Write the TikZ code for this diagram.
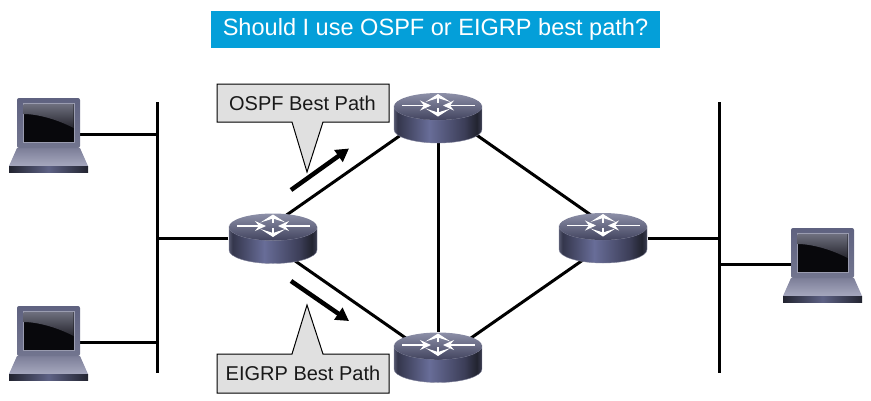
\documentclass[tikz,border=0pt]{standalone}
\usepackage{fontspec}
\setmainfont{Liberation Sans}
\usetikzlibrary{backgrounds,arrows.meta}
\definecolor{titleblue}{HTML}{049FD9}
\definecolor{calloutgray}{HTML}{E0E0E0}
\definecolor{rEdge}{HTML}{55586F}
\definecolor{rDarkL}{HTML}{34364C}
\definecolor{rMid}{HTML}{686D98}
\definecolor{rFall}{HTML}{3C3E58}
\definecolor{rDarkR}{HTML}{222430}
\definecolor{rEdgeR}{HTML}{3A3C50}
\definecolor{rTopHi}{HTML}{8D90A8}
\definecolor{rTopLo}{HTML}{42445F}
\definecolor{rRim}{HTML}{7E8098}
\definecolor{lapframeA}{HTML}{5F6280}
\definecolor{lapframeB}{HTML}{72758F}
\definecolor{lapinner}{HTML}{9A9CB0}
\definecolor{lapbaseA}{HTML}{7C7E98}
\definecolor{lapbaseB}{HTML}{A6A8BE}
\definecolor{lapstrip}{HTML}{5E6285}
\definecolor{screenA}{HTML}{6E6F7E}
\definecolor{screenB}{HTML}{26262E}
\definecolor{screenC}{HTML}{08080C}
\pgfdeclarehorizontalshading{routerside}{100bp}{
  color(0bp)=(rEdge);
  color(25bp)=(rEdge);
  color(27bp)=(rDarkL);
  color(45bp)=(rMid);
  color(65bp)=(rFall);
  color(72bp)=(rDarkR);
  color(75bp)=(rEdgeR);
  color(100bp)=(rEdgeR)}
\tikzset{
  hitbox/.style={inner sep=0pt,minimum width=#1,minimum height=50pt},
  link/.style={line width=3pt,black},
  bar/.style={line width=3pt,black},
  flow/.style={line width=4.5pt,-{Triangle[length=13pt,width=14pt]},black},
  callout/.style={draw=black,line width=1pt,fill=calloutgray},
  calloutlabel/.style={font=\fontsize{20}{24}\selectfont,text=black!90,inner sep=0pt},
  rarrowh/.style={white,line width=1.3pt,-{Stealth[length=11pt,width=10pt,inset=4pt]}},
  rarrowv/.style={white,line width=2.6pt,-{Stealth[length=8pt,width=25pt,inset=4pt]}},
  routerpic/.pic={
    \shade[shading=routerside,draw=rRim,line width=.4pt] (-44,-11.5) -- (-44,11.5)
      arc[start angle=180,end angle=360,x radius=44pt,y radius=13.5pt] -- (44,-11.5)
      arc[start angle=360,end angle=180,x radius=44pt,y radius=13.5pt] -- cycle;
    \shade[top color=rTopHi,bottom color=rTopLo]
      (0,-11.5) ellipse[x radius=44pt,y radius=13.5pt];
    \draw[rarrowh] (-36,-12.5) -- (-7,-12.5);
    \draw[rarrowh] (37,-12.5) -- (5,-12.5);
    \draw[rarrowv] (0,-15.5) -- (0,-24);
    \draw[rarrowv] (0,-10.5) -- (0,-1.5);
  },
  laptoppic/.pic={
    \shade[top color=lapbaseA,bottom color=lapbaseB] (-31.5,14) -- (31.5,14) -- (39.5,32) -- (-39.5,32) -- cycle;
    \shade[left color=rDarkR,right color=rDarkR,middle color=lapstrip] (-39.5,32) rectangle (39.5,38);
    \shade[top color=lapframeA,bottom color=lapframeB,rounded corners=2pt] (-31.5,-36) rectangle (31.5,14);
    \fill[lapinner] (-26,-31) rectangle (26,9);
    \fill[screenC] (-25,-30) rectangle (25,8);
    \shade[top color=screenA,bottom color=screenB]
      (-25,-30) -- (25,-30) -- (25,-6) .. controls (10,-14) and (-10,-20) .. (-25,-20) -- cycle;
  }
}
\begin{document}
\begin{tikzpicture}[x=1pt,y=-1pt]
\useasboundingbox (0,0) rectangle (871,400);
% nodes
\node[fill=titleblue,minimum width=449pt,minimum height=37pt,inner sep=0pt,text=white,font=\fontsize{23.55}{27}\selectfont] (title) at (435.5,29.5) {Should I use OSPF or EIGRP best path?};
\node[hitbox=89pt] (r1) at (273,238.5) {};
\node[hitbox=89pt] (r2) at (438,118) {};
\node[hitbox=89pt] (r3) at (438,357.5) {};
\node[hitbox=89pt] (r4) at (603,238) {};
\node[hitbox=63pt] (l1) at (48.5,134) {};
\node[hitbox=63pt] (l2) at (48.5,342) {};
\node[hitbox=63pt] (l3) at (822.5,264) {};
\coordinate (barLt) at (157,102);
\coordinate (barLb) at (157,373);
\coordinate (barRt) at (719,102);
\coordinate (barRb) at (719,373);
\coordinate (tapA) at (157,134);
\coordinate (tapB) at (157,342);
\coordinate (tapC) at (157,238.5);
\coordinate (tapD) at (719,238);
\coordinate (tapE) at (719,264);
\coordinate (fa1) at (291,190);
\coordinate (fa2) at (349,148.5);
\coordinate (fb1) at (291,281);
\coordinate (fb2) at (349,321);
% connectors behind the devices
\begin{scope}[on background layer]
\draw[bar] (barLt) -- (barLb);
\draw[bar] (barRt) -- (barRb);
\draw[link] (l1) -- (tapA);
\draw[link] (l2) -- (tapB);
\draw[link] (r1) -- (tapC);
\draw[link] (l3) -- (tapE);
\draw[link] (r4) -- (tapD);
\draw[link] ([yshift=14pt]r1.center) -- ([yshift=9pt]r2.center);
\draw[link] ([yshift=-7pt]r1.center) -- ([yshift=-3pt]r3.center);
\draw[link] (r2) -- (r3);
\draw[link] ([yshift=10pt]r2.center) -- ([yshift=14.5pt]r4.center);
\draw[link] ([yshift=-3.5pt]r3.center) -- ([yshift=-8pt]r4.center);
\end{scope}
\pic at (r1) {routerpic};
\pic at (r2) {routerpic};
\pic at (r3) {routerpic};
\pic at (r4) {routerpic};
\pic at (l1) {laptoppic};
\pic at (l2) {laptoppic};
\pic at (l3) {laptoppic};
\draw[flow] (fa1) -- (fa2);
\draw[flow] (fb1) -- (fb2);
% callouts
\draw[callout] (217,84) -- (389,84) -- (389,122) -- (323,122) -- (307,172) -- (292,122) -- (217,122) -- cycle;
\node[calloutlabel] (ospf) at (302.5,103) {OSPF Best Path};
\draw[callout] (217,354) -- (292,354) -- (307,305) -- (323,354) -- (389,354) -- (389,393) -- (217,393) -- cycle;
\node[calloutlabel] (eigrp) at (303,373) {EIGRP Best Path};
\end{tikzpicture}
\end{document}
